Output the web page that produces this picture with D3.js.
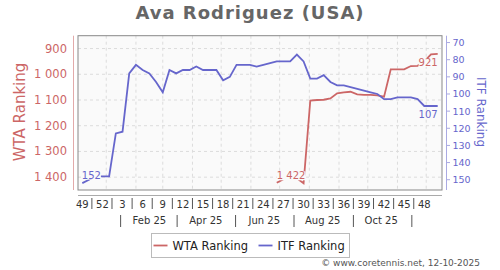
<!DOCTYPE html>
<html>
<head>
<meta charset="utf-8">
<script src="https://cdn.jsdelivr.net/npm/d3@7"></script>
<style>
  body { margin: 0; background: #fff; }
  svg { font-family: "DejaVu Sans", Verdana, sans-serif; }
</style>
</head>
<body>
<div id="chart"></div>
<script>
// one point per week: week 49 of 2024 up to week 50 of 2025
var firstWeek = new Date(2024, 11, 7);
var lastWeek = new Date(2025, 11, 13);

var wtaRanking = [
    null, null, null, null, null, null, null, null, null, null,
    null, null, null, null, null, null, null, null, null, null,
    null, null, null, null, null, null, null, null, null,
    1422, 1408, 1405, 1404, 1424, 1102, 1100, 1099, 1094, 1074,
    1070, 1068, 1078, 1080, 1080, 1082, 1087, 981, 981, 981,
    968, 967, 950, 923, 921
];
var itfRanking = [
    152, 150, 148, 148, 148, 123, 122, 88, 83, 86,
    88, 93, 99, 86, 88, 86, 86, 84, 86, 86,
    86, 92, 90, 83, 83, 83, 84, 83, 82, 81,
    81, 81, 77, 81, 91, 91, 89, 93, 95, 95,
    96, 97, 98, 99, 100, 103, 103, 102, 102, 102,
    103, 107, 107, 107
];

var wtaTicks = [900, 1000, 1100, 1200, 1300, 1400];
var itfTicks = [70, 80, 90, 100, 110, 120, 130, 140, 150];
var monthLabels = ["Feb 25", "Apr 25", "Jun 25", "Aug 25", "Oct 25"];
var monthLabelDates = [new Date(2025, 1, 15), new Date(2025, 3, 15), new Date(2025, 5, 15), new Date(2025, 7, 15), new Date(2025, 9, 15)];
var monthSeparators = [new Date(2025, 0, 16), new Date(2025, 2, 16), new Date(2025, 4, 16), new Date(2025, 6, 16), new Date(2025, 8, 16), new Date(2025, 10, 16)];

var red = "#cc6666";
var blue = "#6666cc";
var plotBg = "#fafafa";

var width = 500, height = 270;
var plot = { left: 78, right: 442, top: 35.7, bottom: 190 };

var svg = d3.select("#chart").append("svg")
    .attr("width", width)
    .attr("height", height);

var weekDates = d3.timeSaturday.range(firstWeek, d3.timeDay.offset(lastWeek, 1));
var rows = weekDates.map(function(d, i) {
    return { date: d, wta: wtaRanking[i], itf: itfRanking[i] };
});

// SCALES
var x = d3.scaleTime()
    .domain([firstWeek, lastWeek])
    .range([82.3, 437.7]);
var yWta = d3.scaleLinear().domain([850, 1450]).range([plot.top, plot.bottom]);
var yItf = d3.scaleLinear().domain([66, 156]).range([plot.top, plot.bottom]);

var fmtWta = d3.formatLocale({ decimal: ".", thousands: " ", grouping: [3], currency: ["", ""] }).format(",d");

// TITLE
svg.append("text")
    .attr("x", 250).attr("y", 19)
    .attr("text-anchor", "middle")
    .attr("font-size", 18).attr("font-weight", "bold")
    .attr("letter-spacing", 1)
    .attr("fill", "#666")
    .text("Ava Rodriguez (USA)");

// PLOT AREA + GRID
svg.append("rect")
    .attr("x", plot.left).attr("y", plot.top)
    .attr("width", plot.right - plot.left).attr("height", plot.bottom - plot.top)
    .attr("fill", plotBg);

svg.append("g").selectAll("line")
    .data(wtaTicks)
    .enter().append("line")
    .attr("x1", plot.left).attr("x2", plot.right)
    .attr("y1", d => yWta(d)).attr("y2", d => yWta(d))
    .attr("stroke", "#dcdcdc").attr("stroke-dasharray", "3,3");

svg.append("g").selectAll("line")
    .data(d3.timeMonth.range(new Date(2025, 0, 1), new Date(2025, 11, 2)))
    .enter().append("line")
    .attr("x1", d => x(d)).attr("x2", d => x(d))
    .attr("y1", plot.top).attr("y2", plot.bottom)
    .attr("stroke", "#dcdcdc").attr("stroke-dasharray", "3,3");

svg.append("rect")
    .attr("x", plot.left).attr("y", plot.top)
    .attr("width", plot.right - plot.left).attr("height", plot.bottom - plot.top)
    .attr("fill", "none").attr("stroke", "#888");

// LEFT AXIS (WTA)
svg.append("line")
    .attr("x1", 73.5).attr("x2", 73.5).attr("y1", plot.top).attr("y2", plot.bottom)
    .attr("stroke", "#e2aaaa");
svg.append("g").selectAll("text")
    .data(wtaTicks)
    .enter().append("text")
    .attr("x", 67).attr("y", d => yWta(d) + 4)
    .attr("text-anchor", "end")
    .attr("font-size", 11.5).attr("fill", red)
    .text(d => fmtWta(d));
svg.append("text")
    .attr("transform", "translate(25, 112) rotate(-90)")
    .attr("text-anchor", "middle")
    .attr("font-size", 15).attr("fill", red)
    .text("WTA Ranking");

// RIGHT AXIS (ITF)
svg.append("line")
    .attr("x1", 446.5).attr("x2", 446.5).attr("y1", plot.top).attr("y2", plot.bottom)
    .attr("stroke", "#aaaae2");
var itfTickG = svg.append("g").selectAll("g")
    .data(itfTicks)
    .enter().append("g");
itfTickG.append("line")
    .attr("x1", 446.5).attr("x2", 450)
    .attr("y1", d => yItf(d)).attr("y2", d => yItf(d))
    .attr("stroke", "#aaaae2");
itfTickG.append("text")
    .attr("x", 452.5).attr("y", d => yItf(d) + 3.5)
    .attr("font-size", 9.5).attr("fill", blue)
    .text(d => d);
svg.append("text")
    .attr("transform", "translate(477, 112) rotate(90)")
    .attr("text-anchor", "middle")
    .attr("font-size", 12).attr("fill", blue)
    .text("ITF Ranking");

// BOTTOM AXIS
svg.append("line")
    .attr("x1", plot.left).attr("x2", plot.right).attr("y1", 195.5).attr("y2", 195.5)
    .attr("stroke", "#aaa");

var labelled = rows.filter((d, i) => i % 3 === 0);
svg.append("g").selectAll("text")
    .data(labelled)
    .enter().append("text")
    .attr("x", d => x(d.date)).attr("y", 208)
    .attr("text-anchor", "middle")
    .attr("font-size", 10).attr("fill", "#333")
    .text(d => +d3.timeFormat("%V")(d.date));
svg.append("g").selectAll("line")
    .data(labelled.slice(0, -1))
    .enter().append("line")
    .attr("x1", d => x(d3.timeDay.offset(d.date, 10.5)))
    .attr("x2", d => x(d3.timeDay.offset(d.date, 10.5)))
    .attr("y1", 198).attr("y2", 209)
    .attr("stroke", "#555");

svg.append("g").selectAll("text")
    .data(monthLabels)
    .enter().append("text")
    .attr("x", (d, i) => x(monthLabelDates[i])).attr("y", 224)
    .attr("text-anchor", "middle")
    .attr("font-size", 10).attr("fill", "#333")
    .text(d => d);
svg.append("g").selectAll("line")
    .data(monthSeparators)
    .enter().append("line")
    .attr("x1", d => x(d)).attr("x2", d => x(d))
    .attr("y1", 215).attr("y2", 227)
    .attr("stroke", "#555");

// LINES
var wtaLine = d3.line()
    .defined(d => d.wta != null)
    .x(d => x(d.date)).y(d => yWta(d.wta));
var itfLine = d3.line()
    .x(d => x(d.date)).y(d => yItf(d.itf));

svg.append("path").datum(rows)
    .attr("d", wtaLine)
    .attr("fill", "none").attr("stroke", red).attr("stroke-width", 1.8);
svg.append("path").datum(rows)
    .attr("d", itfLine)
    .attr("fill", "none").attr("stroke", blue).attr("stroke-width", 1.8);

// VALUE LABELS at first and last point, boxed so they sit over the line
function valueLabel(px, py, txt, anchor, color) {
    var g = svg.append("g");
    var t = g.append("text")
        .attr("x", px).attr("y", py)
        .attr("text-anchor", anchor)
        .attr("font-size", 10).attr("fill", color)
        .text(txt);
    var b = t.node().getBBox();
    g.insert("rect", "text")
        .attr("x", b.x).attr("y", b.y + 1)
        .attr("width", b.width).attr("height", b.height - 2)
        .attr("fill", plotBg);
}
var wtaRows = rows.filter(d => d.wta != null);
var wFirst = wtaRows[0], wLast = wtaRows[wtaRows.length - 1];
var iFirst = rows[0], iLast = rows[rows.length - 1];
valueLabel(x(iFirst.date) - 0.5, yItf(iFirst.itf) - 4.5, iFirst.itf, "start", blue);
valueLabel(x(wFirst.date), yWta(wFirst.wta) - 3.5, fmtWta(wFirst.wta), "start", red);
valueLabel(x(wLast.date), yWta(wLast.wta) + 12, fmtWta(wLast.wta), "end", red);
valueLabel(x(iLast.date), yItf(iLast.itf) + 12, iLast.itf, "end", blue);

// LEGEND
svg.append("rect")
    .attr("x", 151.5).attr("y", 233.5).attr("width", 198).attr("height", 24)
    .attr("fill", "#fff").attr("stroke", "#bbb");
var legend = [["WTA Ranking", red, 153.5], ["ITF Ranking", blue, 258.5]];
legend.forEach(function(l) {
    svg.append("line")
        .attr("x1", l[2]).attr("x2", l[2] + 14).attr("y1", 245.5).attr("y2", 245.5)
        .attr("stroke", l[1]).attr("stroke-width", 1.8);
    svg.append("text")
        .attr("x", l[2] + 19).attr("y", 249.5)
        .attr("font-size", 11.5).attr("fill", "#222")
        .text(l[0]);
});

// FOOTER
svg.append("text")
    .attr("x", 480).attr("y", 266)
    .attr("text-anchor", "end")
    .attr("font-size", 9).attr("fill", "#555")
    .text("© www.coretennis.net, 12-10-2025");
</script>
</body>
</html>
